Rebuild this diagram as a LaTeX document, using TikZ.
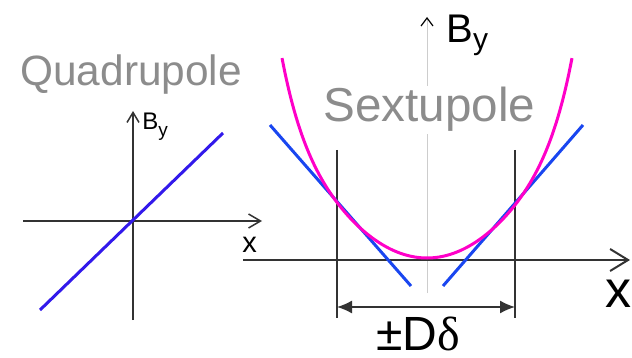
\documentclass[tikz,border=0pt]{standalone}
\usepackage{fontspec}
\setmainfont{Liberation Sans}
\newfontfamily\greekserif{Liberation Serif}
\usepackage{tikz}
\usetikzlibrary{positioning,calc}
\usetikzlibrary{arrows.meta}
\definecolor{PoleGray}{RGB}{140,140,140}
\definecolor{AxisGray}{RGB}{205,205,205}
\definecolor{QuadBlue}{RGB}{50,25,235}
\definecolor{TanBlue}{RGB}{25,70,240}
\definecolor{SextPink}{RGB}{255,0,200}
\tikzset{
  ax/.style={draw=black!80,line width=0.75pt},
  thinax/.style={draw=AxisGray,line width=0.5pt},
  quadline/.style={draw=QuadBlue,line width=1.5pt},
  tangent/.style={draw=TanBlue,line width=1.5pt},
  sextcurve/.style={draw=SextPink,line width=1.5pt},
  poletitle/.style={text=PoleGray,anchor=base west,inner sep=1pt},
  lbl/.style={anchor=base west,inner sep=0pt},
}
\newcommand{\Bsub}[2]{{\fontsize{#1}{#1}\selectfont B}\raisebox{-0.32em}{\fontsize{#2}{#2}\selectfont y}}

\begin{document}
\begin{tikzpicture}[x=0.5pt,y=-0.5pt]
\useasboundingbox (0,0) rectangle (632,358);
% quadrupole
\coordinate (qW) at (23,221);
\coordinate (qE) at (262,221);
\coordinate (qS) at (133,320);
\coordinate (qN) at (133,111);
\coordinate (qA) at (40,310);
\coordinate (qB) at (223,133);
\draw[ax,-{Straight Barb[length=6pt,width=7pt]}] (qW) -- (qE);
\draw[ax,-{Straight Barb[length=5pt,width=6pt]}] (qS) -- (qN);
\draw[quadline] (qA) -- (qB);
\node[poletitle,font=\fontsize{21.2pt}{23pt}\selectfont] (quad) at (18,86) {Quadrupole};
\node[lbl] (qBy) at (142,130) {\Bsub{12pt}{9.5pt}};
\node[lbl,font=\fontsize{14.5pt}{16pt}\selectfont] (qx) at (242,252) {x};
% sextupole
\coordinate (sW) at (243,260);
\coordinate (sE) at (630,260);
\coordinate (sS) at (427,293);
\coordinate (sN) at (427,17);
\coordinate (dL) at (337,307);
\coordinate (dR) at (515,307);
\draw[thinax,-{Straight Barb[length=4pt,width=6pt,color=black,line width=0.6pt]}] (sS) -- (sN);
\draw[ax,-{Straight Barb[length=9pt,width=11pt,line width=1pt]}] (sW) -- (sE);
\draw[ax] (337,150) -- (337,318);
\draw[ax] (515,150) -- (515,318);
\draw[ax,{Latex[length=7.5pt,width=6.5pt]}-{Latex[length=7.5pt,width=6.5pt]}] (dL) -- (dR);
\draw[tangent] (270,125) -- (411,286);
\draw[tangent] (443,286) -- (583,125);
\draw[sextcurve] plot[domain=-145:145,samples=91,smooth]
  ({427+\x},{258-140.9*(\x/145)^2-59*(\x/145)^8});
\node[poletitle,fill=white,font=\fontsize{23.8pt}{25pt}\selectfont] (sext) at (321,122) {Sextupole};
\node[lbl] (sBy) at (446,43) {\Bsub{20pt}{15pt}};
\node[lbl,font=\fontsize{26pt}{28pt}\selectfont] (sx) at (605,307) {x};
\node[lbl,font=\fontsize{24pt}{26pt}\selectfont] (spread) at (376,350) {±D{\greekserif δ}};
\end{tikzpicture}
\end{document}
